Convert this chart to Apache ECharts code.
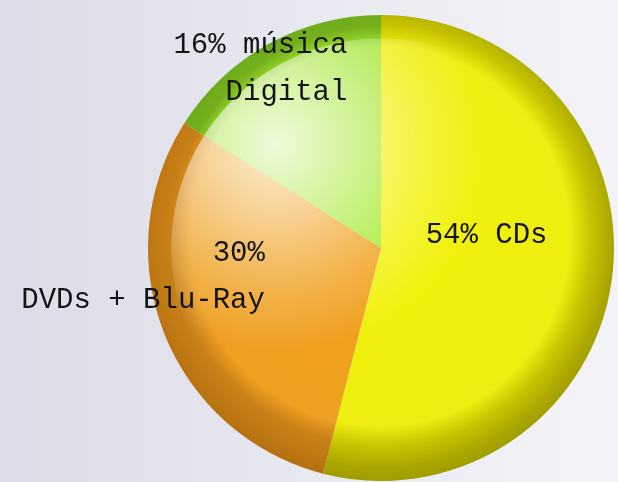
<!DOCTYPE html>
<html>
<head>
<meta charset="utf-8">
<script src="https://cdn.jsdelivr.net/npm/echarts@6/dist/echarts.min.js"></script>
<style>
html,body{margin:0;padding:0;width:618px;height:482px;overflow:hidden;}
#chart{width:618px;height:482px;}
</style>
</head>
<body>
<div id="chart"></div>
<script>
// ---- data ----
var categories = ['CDs', 'DVDs + Blu-Ray', 'música Digital'];
var values = [54, 30, 16];
var labelTexts = ['54% CDs', '30%\nDVDs + Blu-Ray', '16% música\nDigital'];

// ---- styling ----
var CX = 381, CY = 248, R = 233;
var GX = 380, GY = 236, GR = 250;
var palettes = [
  ['#f2f20c', '#eeee10', '#c8c400', '#aaa600', '#9a9800'],
  ['#f0a01c', '#eea020', '#c88018', '#bc7612', '#b06c10'],
  ['#a4ea2c', '#a2e430', '#74b01c', '#68a818', '#5c9a12']
];
function sliceGradient(p) {
  return {
    type: 'radial', x: GX, y: GY, r: GR, global: true,
    colorStops: [
      {offset: 0, color: p[0]},
      {offset: 0.76, color: p[1]},
      {offset: 0.84, color: p[2]},
      {offset: 0.93, color: p[3]},
      {offset: 1, color: p[4]}
    ]
  };
}
var highlight = {
  type: 'radial', x: CX - 105, y: CY - 105, r: 245, global: true,
  colorStops: [
    {offset: 0, color: 'rgba(255,255,255,0.82)'},
    {offset: 0.3, color: 'rgba(255,255,255,0.52)'},
    {offset: 0.6, color: 'rgba(255,255,255,0.2)'},
    {offset: 0.85, color: 'rgba(255,255,255,0)'},
    {offset: 1, color: 'rgba(255,255,255,0)'}
  ]
};
var labelShift = [[-13, -28], [-5, -15], [24, -74]];
var labelAlign = ['center', 'right', 'right'];

function baseSeries(extra) {
  var s = {
    type: 'pie',
    center: [CX, CY],
    radius: [0, R],
    startAngle: 90,
    clockwise: true,
    silent: true,
    itemStyle: {borderWidth: 0},
    label: {show: false},
    labelLine: {show: false}
  };
  for (var k in extra) s[k] = extra[k];
  return s;
}

var chart = echarts.init(document.getElementById('chart'), null, {renderer: 'canvas'});
chart.setOption({
  animation: false,
  backgroundColor: {
    type: 'linear', x: 0, y: 0, x2: 1, y2: 0,
    colorStops: [{offset: 0, color: '#dcdce8'}, {offset: 1, color: '#f4f4f8'}]
  },
  series: [
    baseSeries({
      data: categories.map(function (c, i) {
        return {name: c, value: values[i], itemStyle: {color: sliceGradient(palettes[i])}};
      })
    }),
    baseSeries({
      radius: [0, R * 0.9],
      z: 3,
      itemStyle: {borderWidth: 0, color: highlight},
      data: categories.map(function (c, i) {
        return {name: c, value: values[i]};
      })
    }),
    baseSeries({
      z: 4,
      itemStyle: {borderWidth: 0, color: 'rgba(0,0,0,0)'},
      data: categories.map(function (c, i) {
        return {name: c, value: values[i]};
      }),
      label: {
        show: true,
        position: 'inside',
        formatter: function (p) { return labelTexts[p.dataIndex]; },
        fontFamily: '"Liberation Mono", "DejaVu Sans Mono", monospace',
        fontSize: 29,
        lineHeight: 47,
        color: '#141414',
        fontWeight: 'normal'
      },
      labelLayout: function (p) {
        var i = p.dataIndex;
        return {dx: labelShift[i][0], dy: labelShift[i][1], align: labelAlign[i]};
      }
    })
  ]
});
</script>
</body>
</html>
